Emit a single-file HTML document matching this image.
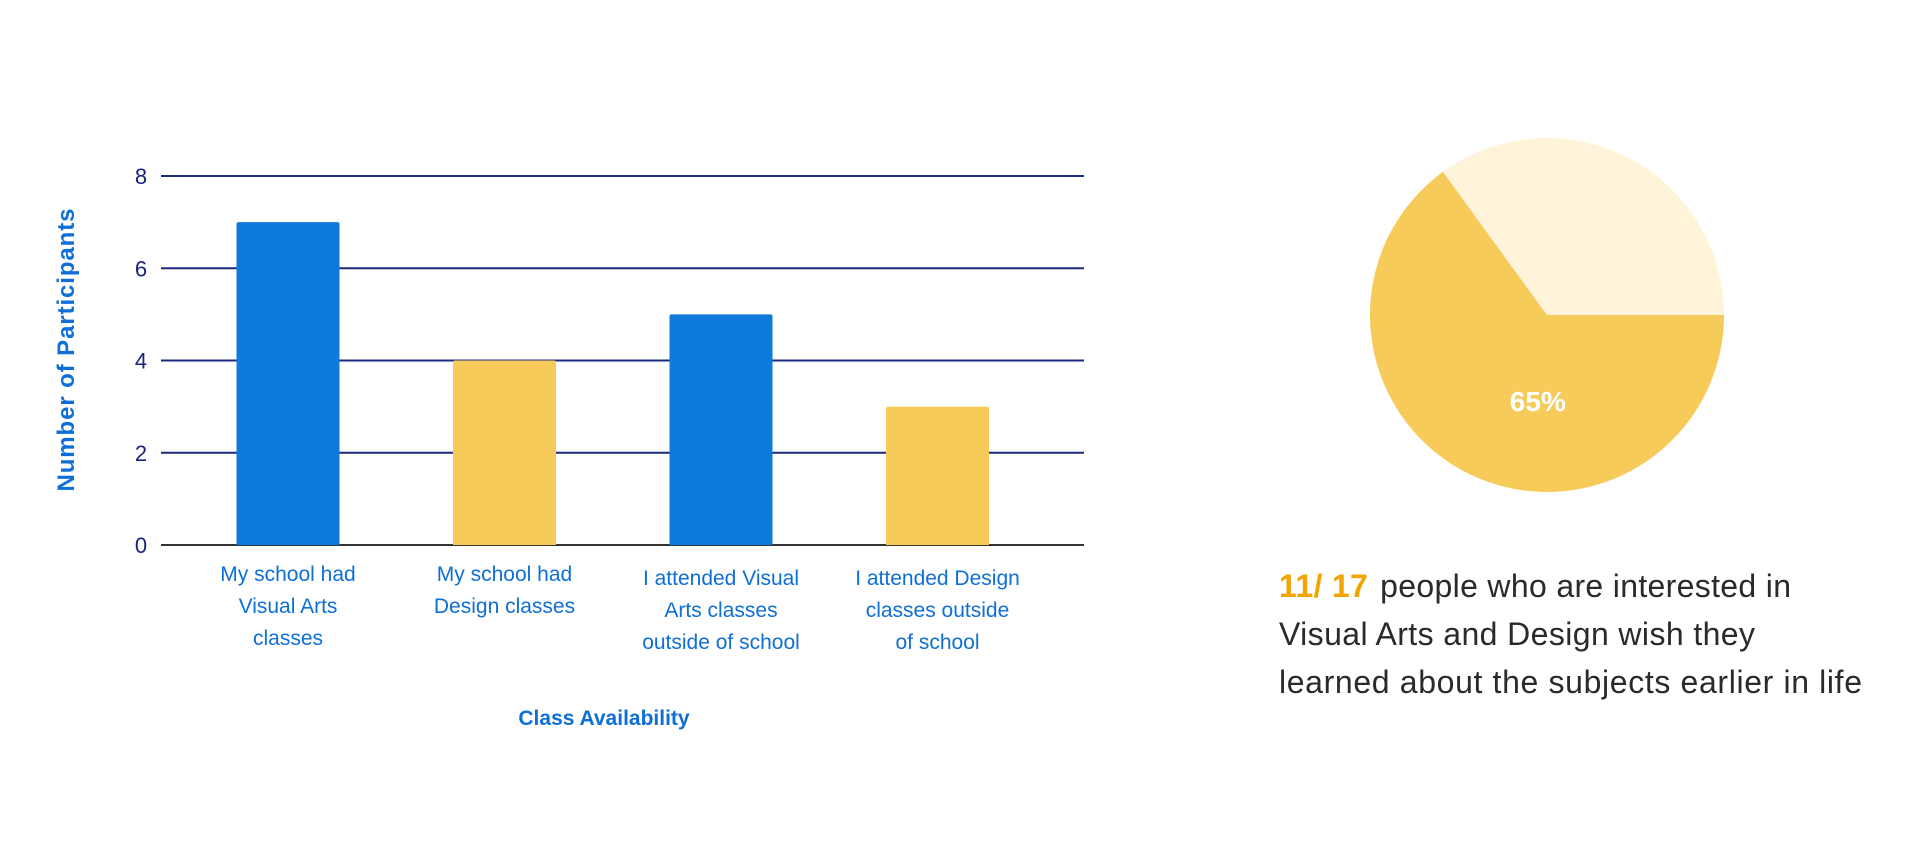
<!DOCTYPE html>
<html><head><meta charset="utf-8"><style>
html,body{margin:0;padding:0;background:#fff;}
svg{display:block;font-family:"Liberation Sans",sans-serif;}
</style></head><body>
<svg id="chart" width="1920" height="863" viewBox="0 0 1920 863">
<g id="bar-chart"></g>
<g id="pie-chart"></g>
<text x="1279" y="597" font-size="32" fill="#2a2a2a" textLength="512"><tspan fill="#f0a500" font-weight="bold">11/ 17</tspan><tspan dx="12">people who are interested in</tspan></text>
<text x="1279" y="645" font-size="32" fill="#2a2a2a" textLength="476">Visual Arts and Design wish they</text>
<text x="1279" y="693" font-size="32" fill="#2a2a2a" textLength="583">learned about the subjects earlier in life</text>
</svg>
<script>
const categories = [
  ["My school had","Visual Arts","classes"],
  ["My school had","Design classes"],
  ["I attended Visual","Arts classes","outside of school"],
  ["I attended Design","classes outside","of school"]
];
const values = [7, 4, 5, 3];
const barColors = ["#0e7bdc", "#f7cb5a", "#0e7bdc", "#f7cb5a"];
const yTicks = [0, 2, 4, 6, 8];
const pieValues = [65, 35];
const pieLabels = ["65%", ""];

const NS = "http://www.w3.org/2000/svg";
function mk(tag, attrs, parent){const e=document.createElementNS(NS,tag);for(const k in attrs)e.setAttribute(k,attrs[k]);parent.appendChild(e);return e;}
const g = document.getElementById("bar-chart");
const X0=161, X1=1084, Y0=545, Y8=176;
const y = v => Y0 - (v/8)*(Y0-Y8);
const xc = i => 288 + i*216.5;
const BW = 103;

yTicks.forEach(t=>{
  const l = mk("line",{x1:X0,x2:X1,y1:y(t),y2:y(t),stroke:t===0?"#333":"#1a2a80","stroke-width":2},g);
  
  
  const tx = mk("text",{x:141,y:y(t)+8,"font-size":22,"text-anchor":"middle",fill:"#1a237e"},g);
  tx.textContent=t;
  
  
});
values.forEach((v,i)=>{
  const r = mk("path",{d:`M${xc(i)-BW/2},${Y0} V${y(v)+2} q0,-2 2,-2 H${xc(i)+BW/2-2} q2,0 2,2 V${Y0} Z`,fill:barColors[i]},g);
  
  
  const lines = categories[i];
  const startY = lines.length===2 ? 581 : 581 + (i>=2?4:0);
  lines.forEach((s,j)=>{
    const t = mk("text",{x:xc(i),y:startY+j*32,"font-size":21,"text-anchor":"middle",fill:"#0e6fd8"},g);
    t.textContent=s;
    
    
  });
});
const xt = mk("text",{x:604,y:725,"font-size":21,"font-weight":"bold","text-anchor":"middle",fill:"#0e6fd8"},g);
xt.textContent="Class Availability";


const yt = mk("text",{x:0,y:0,"font-size":24,"font-weight":"bold","text-anchor":"middle",fill:"#0e6fd8",textLength:283,transform:"translate(74,350) rotate(-90)"},g);
yt.textContent="Number of Participants";



// pie
const pg = document.getElementById("pie-chart");
const CX=1547, CY=315, R=177;
const pieColors=["#f7cb5a","#fff4d9"];
const total = pieValues.reduce((a,b)=>a+b,0);
let ang = 90; // degrees clockwise from top
pieValues.forEach((v,i)=>{
  const a0=ang, a1=ang+v/total*360;
  const p = d=>[CX+R*Math.sin(d*Math.PI/180), CY-R*Math.cos(d*Math.PI/180)];
  const [sx,sy]=p(a0),[ex,ey]=p(a1);
  const large = (a1-a0)>180?1:0;
  const s = mk("path",{d:`M${CX},${CY} L${sx},${sy} A${R},${R} 0 ${large} 1 ${ex},${ey} Z`,fill:pieColors[i]},pg);
  
  
  if(pieLabels[i]){
    const mid=(a0+a1)/2;
    const lx=CX+R*0.5*Math.sin(mid*Math.PI/180), ly=CY-R*0.5*Math.cos(mid*Math.PI/180);
    const t = mk("text",{x:lx+31,y:ly+17,"font-size":28,"font-weight":"bold","text-anchor":"middle",fill:"#fff"},pg);
    t.textContent=pieLabels[i];
    
    
  }
  ang=a1;
});
</script>
</body></html>
